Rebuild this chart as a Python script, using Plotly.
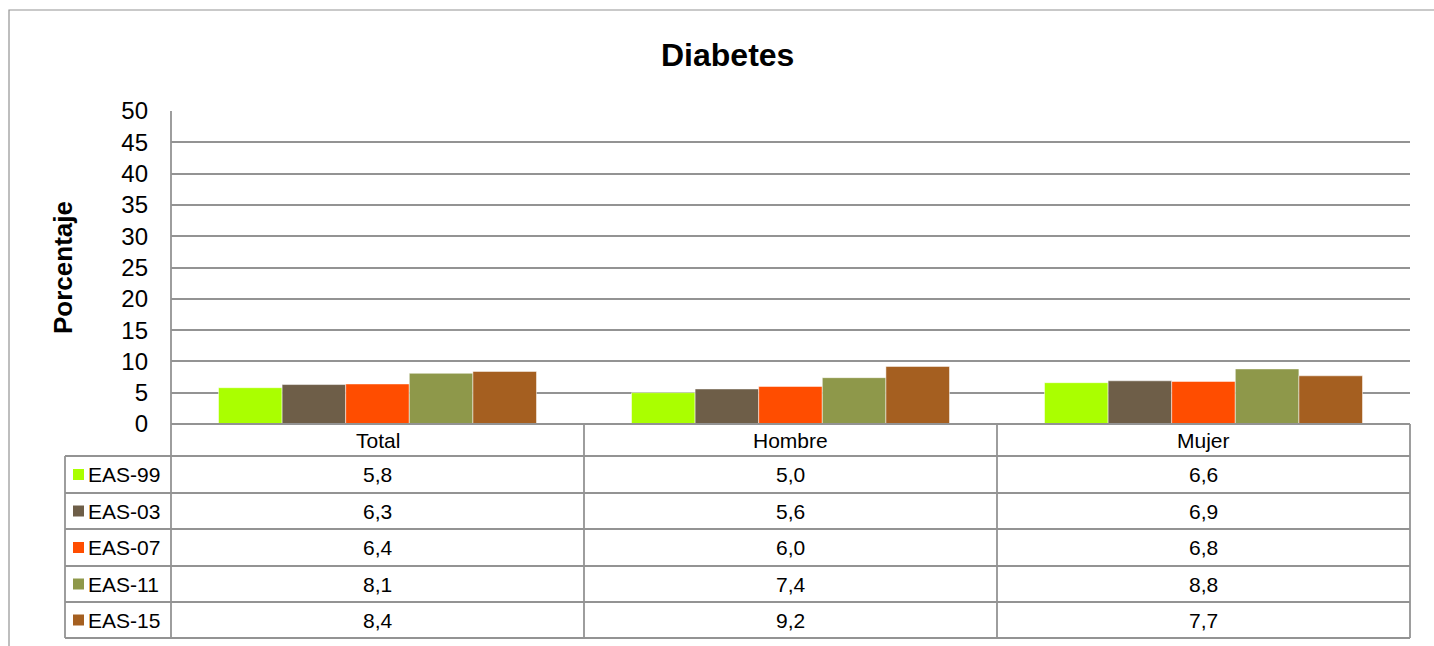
import plotly.graph_objects as go

categories = ["Total", "Hombre", "Mujer"]
series_names = ["EAS-99", "EAS-03", "EAS-07", "EAS-11", "EAS-15"]
eas99 = [5.8, 5.0, 6.6]
eas03 = [6.3, 5.6, 6.9]
eas07 = [6.4, 6.0, 6.8]
eas11 = [8.1, 7.4, 8.8]
eas15 = [8.4, 9.2, 7.7]
colors = ["#AAFF00", "#6E5E48", "#FF4D00", "#8E984A", "#A55F20"]
y_ticks = [0, 5, 10, 15, 20, 25, 30, 35, 40, 45, 50]

series_values = [eas99, eas03, eas07, eas11, eas15]

W, H = 1434, 646
PX0, PX1, PY0, PY1 = 171, 1410, 111, 424
FONT = "Liberation Sans, Arial, sans-serif"
GRID = "#939393"
TFS = 21


def px(x):
    return (x - PX0) / (PX1 - PX0)


def py(y):
    return (PY1 - y) / (PY1 - PY0)


def fmt(v):
    return f"{v:.1f}".replace(".", ",")


fig = go.Figure()
for name, vals, col in zip(series_names, series_values, colors):
    fig.add_trace(go.Bar(
        x=categories, y=vals, name=name,
        marker=dict(color=col, line=dict(color="rgba(255,255,255,0.5)", width=1)),
        showlegend=False,
    ))

shapes = []
# outer chart border
shapes.append(dict(type="rect", xref="paper", yref="paper",
                   x0=px(9), x1=px(1440), y0=py(660), y1=py(10),
                   line=dict(color=GRID, width=1.2), fillcolor="rgba(0,0,0,0)", layer="below"))
# left axis line through table
shapes.append(dict(type="line", xref="paper", yref="paper",
                   x0=px(171), x1=px(171), y0=py(111), y1=py(638),
                   line=dict(color=GRID, width=1.8)))
# column separators
for xv in [584, 997, 1410]:
    shapes.append(dict(type="line", xref="paper", yref="paper",
                       x0=px(xv), x1=px(xv), y0=py(424), y1=py(638),
                       line=dict(color=GRID, width=1.8)))
# legend column left edge
shapes.append(dict(type="line", xref="paper", yref="paper",
                   x0=px(65), x1=px(65), y0=py(456), y1=py(638),
                   line=dict(color=GRID, width=1.8)))
# axis line at 0
shapes.append(dict(type="line", xref="paper", yref="paper",
                   x0=px(171), x1=px(1410), y0=py(424), y1=py(424),
                   line=dict(color=GRID, width=1.8)))
row_lines = [456, 493, 529, 566, 602, 638]
for yv in row_lines:
    shapes.append(dict(type="line", xref="paper", yref="paper",
                       x0=px(65), x1=px(1410), y0=py(yv), y1=py(yv),
                       line=dict(color=GRID, width=1.8)))

annotations = []
# category headers
for c in categories:
    annotations.append(dict(x=c, y=py(440), xref="x", yref="paper", text=c,
                            showarrow=False, font=dict(family=FONT, size=TFS, color="#000"),
                            xanchor="center", yanchor="middle"))
# table rows
for i, (name, vals, col) in enumerate(zip(series_names, series_values, colors)):
    yc = (row_lines[i] + row_lines[i + 1]) / 2
    shapes.append(dict(type="rect", xref="paper", yref="paper",
                       x0=px(73), x1=px(84), y0=py(yc + 5.5), y1=py(yc - 5.5),
                       fillcolor=col, line=dict(width=0)))
    annotations.append(dict(x=px(86), y=py(yc), xref="paper", yref="paper", text=name,
                            showarrow=False, font=dict(family=FONT, size=TFS, color="#000"),
                            xanchor="left", yanchor="middle"))
    for c, v in zip(categories, vals):
        annotations.append(dict(x=c, y=py(yc), xref="x", yref="paper", text=fmt(v),
                                showarrow=False, font=dict(family=FONT, size=TFS, color="#000"),
                                xanchor="center", yanchor="middle"))
# y-axis title
annotations.append(dict(x=px(63), y=py(268), xref="paper", yref="paper", text="<b>Porcentaje</b>",
                        textangle=-90, showarrow=False,
                        font=dict(family=FONT, size=26, color="#000"),
                        xanchor="center", yanchor="middle"))
# title
annotations.append(dict(x=px(727), y=py(55), xref="paper", yref="paper", text="<b>Diabetes</b>",
                        showarrow=False, font=dict(family=FONT, size=32, color="#000"),
                        xanchor="center", yanchor="middle"))

fig.update_layout(
    width=W, height=H,
    margin=dict(l=PX0, r=W - PX1, t=PY0, b=H - PY1, pad=0),
    paper_bgcolor="white", plot_bgcolor="white",
    barmode="group", bargap=0.23, bargroupgap=0,
    shapes=shapes, annotations=annotations,
    xaxis=dict(showticklabels=False, showgrid=False, zeroline=False, showline=False, ticks=""),
    yaxis=dict(range=[0, 50], tickvals=y_ticks, showgrid=True, gridcolor=GRID, gridwidth=1.8,
               zeroline=False, showline=False, ticks="", ticklabelstandoff=22,
               tickfont=dict(family=FONT, size=24, color="#000")),
)

fig.write_html("out.html", config={"displayModeBar": False},
               post_script="document.body.style.margin='0';")
